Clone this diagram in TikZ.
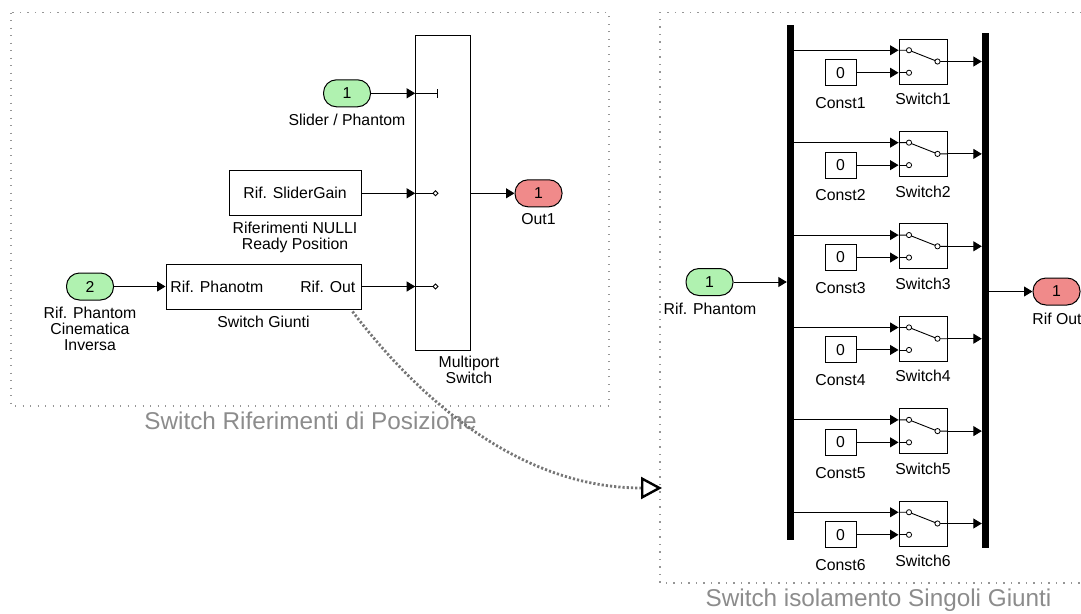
\documentclass[tikz,border=0pt]{standalone}
\usepackage{fontspec}
\setmainfont{Liberation Sans}
\usetikzlibrary{arrows.meta,calc}
\definecolor{ingreen}{RGB}{176,242,176}
\definecolor{outred}{RGB}{240,138,138}
\definecolor{framegray}{RGB}{150,150,150}
\definecolor{titlegray}{RGB}{140,140,140}
\definecolor{linkgray}{RGB}{118,118,118}

\begin{document}
\begin{tikzpicture}[x=1pt,y=-1pt,
  every node/.style={font=\fontsize{15.8}{16}\selectfont, inner sep=0pt},
  blk/.style={draw, line width=1pt, fill=white},
  inport/.style={draw, line width=1pt, fill=ingreen, rounded corners=13pt, minimum width=47pt, minimum height=27pt},
  outport/.style={inport, fill=outred},
  bar/.style={fill=black, draw=none, minimum width=7pt, minimum height=515pt},
  sig/.style={line width=1pt, -{Triangle[length=8.5pt,width=10pt]}},
  wire/.style={line width=0.9pt},
  frame/.style={framegray, line width=1.2pt, dash pattern=on 1.2pt off 6.3pt},
  title/.style={font=\fontsize{24.3}{26}\selectfont, text=titlegray},
  lbl/.style={align=center},
  link/.style={linkgray, line width=2.8pt, dash pattern=on 2.2pt off 2pt,
    -{Triangle[open, color=black, length=21pt, width=22pt, line width=2.4pt]}},
]
\useasboundingbox (0,0) rectangle (1081,613);

% subsystem frames
\draw[frame] (11,12.7) rectangle (609,406);
\draw[frame] (1081,12.3) -- (660,12.3) -- (660,583) -- (1081,583);
\node[title] (t1) at (310.5,421) {Switch Riferimenti di Posizione};
\node[title] (t2) at (878.5,600) {Switch isolamento Singoli Giunti};

% ---------------- position reference switch ----------------
\node[inport] (in1) at (347,93.3) {1};
\node (in1l) at (347,120) {Slider / Phantom};

\node[blk, minimum width=132pt, minimum height=44.7pt] (sgain) at (295,193.3) {Rif. SliderGain};
\node[lbl] (sgainl) at (295,237.5) {Riferimenti NULLI\\Ready Position};

\node[blk, minimum width=195pt, minimum height=45pt] (sg) at (263.5,286.5) {};
\node[anchor=west] (sgin) at ($(sg.west)+(4.7,0)$) {Rif. Phanotm};
\node[anchor=east] (sgout) at ($(sg.east)+(-6,0)$) {Rif. Out};
\node (sgl) at (263.5,322) {Switch Giunti};

\node[inport] (in2) at (90,286.5) {2};
\node[lbl] (in2l) at (90,329) {Rif. Phantom\\Cinematica\\Inversa};

\node[blk, minimum width=55pt, minimum height=315.7pt] (mp) at (443.2,192.85) {};
\node[lbl] (mpl) at (469,369.5) {Multiport\\Switch};

\node[outport] (out1) at (538.5,193.3) {1};
\node (out1l) at (538.5,219) {Out1};

% multiport switch port marks
\draw[wire] (mp.west |- in1) -- (437,93.3);
\draw[wire] (437,89) -- (437,97.6);
\foreach \py in {193.3,286.5}{
  \draw[wire] (415.7,\py) -- (433,\py);
  \draw[line width=0.8pt, fill=white] (433,\py) -- (435.5,\py-2.5) -- (438,\py) -- (435.5,\py+2.5) -- cycle;
}

\draw[sig] (in1.east) -- (in1.east -| mp.west);
\draw[sig] (sgain.east) -- (sgain.east -| mp.west);
\draw[sig] (sg.east) -- (sg.east -| mp.west);
\draw[sig] (mp.east |- out1) -- (out1.west);
\draw[sig] (in2.east) -- (sg.west);

% ---------------- joint isolation switches ----------------
\node[inport] (in3) at (709.5,282) {1};
\node (in3l) at (710,309) {Rif. Phantom};
\node[bar] (demux) at (790.5,282.5) {};
\node[bar] (mux) at (985.5,290.5) {};
\node[outport] (rifout) at (1056.5,291.5) {1};
\node (rifoutl) at (1057,319) {Rif Out};

\draw[sig] (in3.east) -- (in3.east -| demux.west);
\draw[sig] (mux.east |- rifout) -- (rifout.west);

\foreach \i in {1,...,6}{
  \pgfmathsetmacro\yc{61.5+92.4*(\i-1)}
  \node[blk, minimum width=48pt, minimum height=45pt] (sw\i) at (923,\yc) {};
  \node[blk, minimum width=31pt, minimum height=26pt] (c\i) at (840.5,\yc+11.25) {0};
  \node (swl\i) at (923,\yc+37.5) {Switch\i};
  \node (cl\i) at (840.5,\yc+41.5) {Const\i};
  \coordinate (ua\i) at ($(sw\i.west)+(0,-11.25)$);
  \coordinate (ub\i) at ($(sw\i.west)+(0,11.25)$);
  \draw[sig] (demux.east |- ua\i) -- (ua\i);
  \draw[sig] (c\i.east) -- (ub\i);
  \draw[sig] (sw\i.east) -- (sw\i.east -| mux.west);
  % switch icon
  \draw[wire] (ua\i) -- (909,\yc-11.25) -- (937.5,\yc) -- (sw\i.east);
  \draw[wire] (ub\i) -- (909,\yc+11.25);
  \draw[line width=0.8pt, fill=white] (909,\yc-11.25) circle (2.6);
  \draw[line width=0.8pt, fill=white] (909,\yc+11.25) circle (2.6);
  \draw[line width=0.8pt, fill=white] (937.5,\yc) circle (2.6);
}

% link between the two subsystems
\coordinate (lstart) at ($(sg.south east)+(-9,2)$);
\coordinate (lend) at (662,488);
\draw[link] (lstart) .. controls (420,400) and (520,488) .. (lend);
\end{tikzpicture}
\end{document}
